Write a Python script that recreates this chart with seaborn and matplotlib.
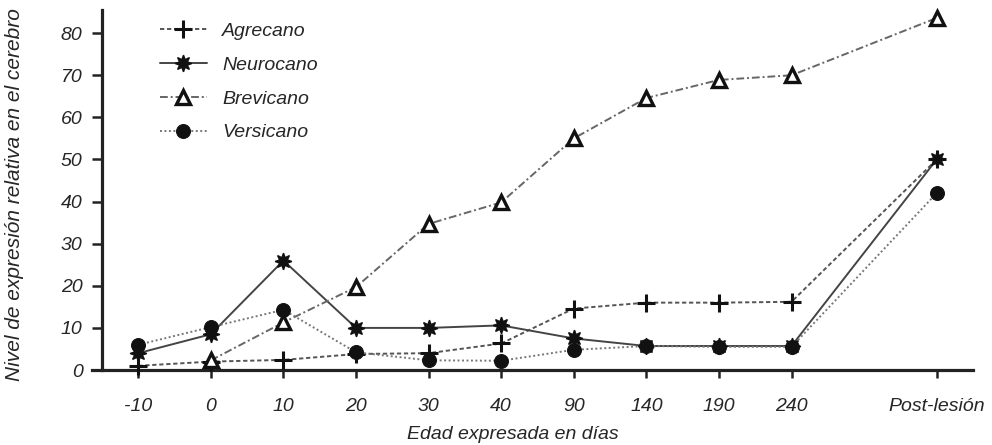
import numpy as np
import pandas as pd
import matplotlib
matplotlib.use('Agg')
import matplotlib.pyplot as plt
import seaborn as sns

# 데이터: 나이(일) 별 뇌 내 상대 발현량
edad = ['-10', '0', '10', '20', '30', '40', '90', '140', '190', '240', 'Post-lesión']
agrecano = [1, 2, 2.4, 3.8, 4, 6.3, 14.6, 16, 16, 16.2, 50]
neurocano = [4, 8.5, 26, 10, 10, 10.6, 7.5, 5.7, 5.7, 5.7, 50]
brevicano = [np.nan, 2.3, 11.3, 19.7, 34.7, 39.8, 55, 64.6, 68.9, 70, 83.6]
versicano = [6, 10.2, 14.3, 4.2, 2.3, 2.2, 4.8, 5.7, 5.5, 5.5, 42]

sns.set_style('ticks')
plt.rcParams['font.family'] = ['Liberation Sans Narrow', 'Liberation Sans', 'DejaVu Sans']
plt.rcParams['font.style'] = 'italic'
plt.rcParams['font.size'] = 14

# x 위치 (Post-lesión 은 한 칸 띄움)
x_pos = list(range(10)) + [11]

fig = plt.figure(figsize=(9.92, 4.45), dpi=100)
ax = fig.add_axes([0.1028, 0.1685, 0.878, 0.809])

series = [
    ('Agrecano', agrecano, dict(marker='+', markersize=13, markeredgewidth=2.2,
                                 linestyle=(0, (2.2, 1.4)), color='#555555')),
    ('Neurocano', neurocano, dict(marker=(8, 1, 0), markersize=12, markeredgewidth=1,
                                   markerfacecolor='#111111', markeredgecolor='#111111',
                                   linestyle='-', color='#444444')),
    ('Brevicano', brevicano, dict(marker='^', markersize=10, markeredgewidth=2.4,
                                   markerfacecolor='white', markeredgecolor='#111111',
                                   linestyle=(0, (4, 1.5, 1, 1.5)), color='#666666')),
    ('Versicano', versicano, dict(marker='o', markersize=10,
                                   markerfacecolor='#111111', markeredgecolor='#111111',
                                   linestyle=(0, (1, 1.3)), color='#777777')),
]

for name, vals, style in series:
    sns.lineplot(x=x_pos, y=vals, ax=ax, label=name, linewidth=1.4,
                 clip_on=False, zorder=3, **style)
for line in ax.lines:
    line.set_markeredgecolor('#111111')

ax.set_xlim(-0.5, 11.5)
ax.set_ylim(0, 85.5)
ax.set_xticks(x_pos)
ax.set_xticklabels(edad)
ax.set_yticks(range(0, 90, 10))

sns.despine(ax=ax)
for s in ['left', 'bottom']:
    ax.spines[s].set_linewidth(2.3)
    ax.spines[s].set_color('#222222')
ax.spines['bottom'].set_bounds(-0.64, 11.5)
ax.tick_params(axis='y', length=7, width=1.8, color='#222222', pad=7, labelsize=14)
ax.tick_params(axis='x', length=6, width=1.8, color='#222222', pad=14, labelsize=14)

ax.set_xlabel('Edad expresada en días', fontsize=14, labelpad=2)
ax.xaxis.set_label_coords(0.472, -0.155)
ax.set_ylabel('Nivel de expresión relativa en el cerebro', fontsize=15)
ax.yaxis.set_label_coords(-0.0896, 0.486)

ax.legend(loc='upper left', bbox_to_anchor=(160 / 992, 1 - 22 / 445),
          bbox_transform=fig.transFigure, frameon=False, borderpad=0,
          borderaxespad=0, handlelength=2.4, handletextpad=0.8,
          labelspacing=0.84, prop={'style': 'italic', 'size': 14})

plt.savefig('out.png', dpi=100)
plt.close()
